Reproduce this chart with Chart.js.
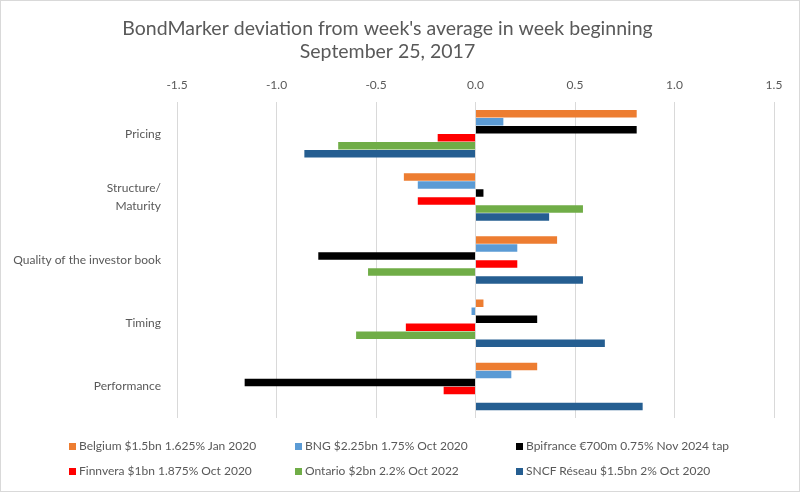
<!DOCTYPE html>
<html>
<head>
<meta charset="utf-8">
<script src="https://cdn.jsdelivr.net/npm/chart.js@4/dist/chart.umd.min.js"></script>
<style>
  body { margin: 0; background: #fff; }
  #wrap { position: relative; width: 800px; height: 492px; box-sizing: border-box; border: 1px solid #d9d9d9; }
  #legend { position: absolute; left: 0; top: 0; width: 100%; height: 100%; pointer-events: none;
    font-family: Lato, "Open Sans", sans-serif; font-size: 12px; color: #595959; }
  .item { position: absolute; white-space: nowrap; line-height: 14px; }
  .sw { display: inline-block; width: 7px; height: 7px; margin-right: 3px; vertical-align: 0px; }
</style>
</head>
<body>
<div id="wrap">
  <canvas id="chart" width="798" height="490"></canvas>
  <div id="legend"></div>
</div>
<script>
const categories = ["Pricing", ["Structure/", "Maturity"], "Quality of the investor book", "Timing", "Performance"];
const seriesNames = [
  "Belgium $1.5bn 1.625% Jan 2020",
  "BNG $2.25bn 1.75% Oct 2020",
  "Bpifrance €700m 0.75% Nov 2024 tap",
  "Finnvera $1bn 1.875% Oct 2020",
  "Ontario $2bn 2.2% Oct 2022",
  "SNCF Réseau $1.5bn 2% Oct 2020"
];
const colors = ["#ed7d31", "#5b9bd5", "#000000", "#ff0000", "#70ad47", "#255e91"];

const belgium = [0.81, -0.36, 0.41, 0.04, 0.31];
const bng = [0.14, -0.29, 0.21, -0.02, 0.18];
const bpifrance = [0.81, 0.04, -0.79, 0.31, -1.16];
const finnvera = [-0.19, -0.29, 0.21, -0.35, -0.16];
const ontario = [-0.69, 0.54, -0.54, -0.60, 0];
const sncf = [-0.86, 0.37, 0.54, 0.65, 0.84];

const values = [belgium, bng, bpifrance, finnvera, ontario, sncf];
const font = "Lato, 'Open Sans', sans-serif";

new Chart(document.getElementById("chart"), {
  type: "bar",
  data: {
    labels: categories,
    datasets: seriesNames.map((name, i) => ({
      label: name,
      data: values[i],
      backgroundColor: colors[i],
      categoryPercentage: 0.76,
      barPercentage: 0.94
    }))
  },
  options: {
    indexAxis: "y",
    responsive: false,
    animation: false,
    layout: { padding: { left: 0, right: 25, bottom: 73 } },
    plugins: {
      legend: { display: false },
      tooltip: { enabled: false },
      title: {
        display: true,
        text: ["BondMarker deviation from week's average in week beginning", "September 25, 2017"],
        color: "#595959",
        font: { family: font, size: 19.5, weight: "normal", lineHeight: 1.2 },
        padding: { top: 16, bottom: 4 }
      }
    },
    scales: {
      x: {
        position: "top",
        min: -1.5,
        max: 1.5,
        ticks: {
          stepSize: 0.5,
          color: "#595959",
          font: { family: font, size: 12 },
          padding: 10,
          callback: v => v.toFixed(1)
        },
        grid: { color: "#d9d9d9", drawTicks: false },
        border: { display: false }
      },
      y: {
        afterFit: s => { s.width = 176; },
        ticks: { color: "#595959", font: { family: font, size: 12, lineHeight: 1.55 }, padding: 8 },
        grid: { display: false },
        border: { display: false }
      }
    }
  }
});

// HTML legend, 3 columns x 2 rows
const legend = document.getElementById("legend");
const colX = [68, 294, 515];
const rowY = [438, 463];
seriesNames.forEach((name, i) => {
  const el = document.createElement("div");
  el.className = "item";
  el.style.left = colX[i % 3] + "px";
  el.style.top = rowY[Math.floor(i / 3)] + "px";
  el.innerHTML = '<span class="sw" style="background:' + colors[i] + '"></span>' + name;
  legend.appendChild(el);
});
</script>
</body>
</html>
